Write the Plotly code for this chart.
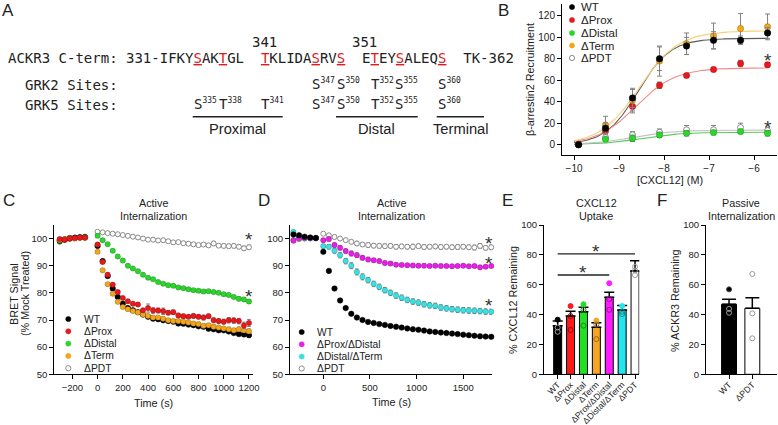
import plotly.graph_objects as go
import numpy as np

W, H = 778, 425
SANS = "Liberation Sans, Arial, sans-serif"
MONO = "DejaVu Sans Mono, monospace"
NB = "\u00a0"
TXT = "#222222"

# ---------------- colours ----------------
C_BLACK = "#000000"
C_RED = "#e8181c"
C_GREEN = "#2ad62a"
C_ORANGE = "#f2a61c"
C_MAGENTA = "#e61ee6"
C_CYAN = "#3ae0e2"
C_OPEN = "#8c8c8c"

# ---------------- Panel B data ----------------
b_logconc = [-9.9, -9.3, -8.7, -8.1, -7.5, -6.9, -6.3, -5.7]
b_wt = [0, 15.3, 43.5, 80.0, 91.9, 97.2, 97.2, 104.0]
b_wt_err = [0, 5, 9, 11, 8, 8, 4, 5]
b_prox = [0, 12.8, 35.6, 55.3, 64.4, 70.0, 75.6, 74.4]
b_prox_err = [0, 2, 6, 3, 1, 2, 3, 2]
b_distal = [0, 5.0, 5.9, 9.0, 10.6, 11.2, 12.2, 10.6]
b_distal_err = [0, 1.5, 3, 2.5, 2.5, 2, 2, 2.5]
b_term = [0, 18.4, 41.3, 77.8, 94.0, 101.2, 108.1, 109.7]
b_term_err = [0, 8, 10, 14, 10, 12, 14, 12]
b_pdt = [0, 6.6, 9.1, 11.6, 13.8, 13.8, 16.0, 13.1]
b_pdt_err = [0, 3, 3, 3, 4, 4, 4, 3]
# fitted sigmoid parameters (top, logEC50, hill)
b_fit_names = ["WT", "ΔProx", "ΔDistal", "ΔTerm", "ΔPDT"]
b_fit_top = [99, 71.5, 11.5, 106, 13.5]
b_fit_logec50 = [-8.58, -8.62, -8.5, -8.55, -8.7]
b_fit_hill = [1.2, 1.0, 1.0, 1.0, 1.0]
b_fit_colors = ["#5a5a5a", "#f58a8a", "#5cc85c", "#f7cf7a", "#c4c4c4"]
b_star_x = [-5.7, -5.7]
b_star_y = [83.0, 20.6]

# ---------------- Panel C data ----------------
c_base_t = [-300, -260, -220, -180, -140, -100]
c_post_t = list(range(0, 1201, 40))
c_wt = [99.2, 99.7, 100.0, 100.3, 100.4, 100.5,
        97.3, 91.7, 86.2, 81.6, 78.5, 76.0, 74.4, 73.6, 72.9, 72.0,
        71.2, 70.5, 70.3, 69.9, 69.6, 69.4, 68.7, 68.6, 68.3, 68.1,
        67.7, 67.5, 66.8, 66.6, 66.2, 66.2, 65.8, 65.2, 64.8, 64.7, 64.4]
c_wt_err = [0.4, 0.3, 0.3, 0.3, 0.3, 0.3,
            0.5, 0.6, 0.7, 0.6, 0.5, 0.5, 0.5, 0.4, 0.5, 0.5,
            0.5, 0.5, 0.4, 0.5, 0.5, 0.4, 0.5, 0.5, 0.4, 0.5,
            0.5, 0.5, 0.6, 0.5, 0.5, 0.5, 0.6, 0.5, 0.6, 0.6, 0.6]
c_prox = [99.8, 99.6, 100.0, 100.2, 100.4, 100.3,
          97.8, 91.4, 86.7, 83.0, 80.3, 78.1, 76.9, 76.0, 75.7, 73.6,
          74.4, 73.5, 73.5, 73.2, 72.7, 72.9, 71.7, 71.4, 71.2, 71.5,
          71.2, 70.9, 71.4, 69.9, 69.6, 69.4, 69.9, 69.8, 69.6, 68.0, 68.9]
c_prox_err = [0.4, 0.3, 0.3, 0.3, 0.3, 0.3,
              0.6, 0.6, 0.7, 0.6, 0.6, 0.5, 0.6, 0.5, 0.6, 0.6,
              1.5, 1.0, 0.9, 1.2, 0.8, 0.8, 0.8, 0.8, 0.7, 0.8,
              0.8, 0.9, 0.8, 0.9, 0.9, 0.9, 1.0, 1.0, 1.0, 1.2, 1.3]
c_distal = [98.8, 99.5, 100.3, 100.2, 100.5, 100.4,
            101.0, 99.4, 97.9, 95.5, 93.4, 91.9, 90.0, 89.0, 88.0, 86.7,
            85.6, 85.0, 84.0, 83.4, 82.8, 82.6, 82.0, 81.7, 81.3, 81.0,
            80.8, 80.5, 80.6, 80.3, 80.0, 79.5, 79.2, 78.5, 77.8, 77.6, 76.8]
c_distal_err = [0.3, 0.3, 0.3, 0.3, 0.3, 0.3,
                0.5, 0.5, 0.4, 0.4, 0.5, 0.4, 0.5, 0.4, 0.5, 0.4,
                0.5, 0.4, 0.5, 0.4, 0.5, 0.4, 0.5, 0.4, 0.5, 0.5,
                0.5, 0.6, 0.5, 0.6, 0.5, 0.6, 0.6, 0.6, 0.7, 0.7, 0.7]
c_term = [99.4, 99.8, 100.1, 100.0, 100.3, 100.4,
          95.1, 88.3, 83.2, 79.7, 76.7, 74.8, 74.0, 73.3, 72.8, 72.0,
          71.5, 70.9, 70.9, 70.5, 69.9, 69.6, 69.6, 69.4, 69.1, 68.7,
          68.5, 67.9, 68.1, 67.5, 67.2, 66.9, 66.6, 66.2, 66.6, 66.2, 65.9]
c_term_err = [0.3, 0.3, 0.3, 0.3, 0.3, 0.3,
              0.5, 0.6, 0.6, 0.5, 0.5, 0.5, 0.5, 0.5, 0.6, 0.5,
              0.5, 0.6, 0.5, 0.6, 0.5, 0.6, 0.6, 0.5, 0.6, 0.6,
              0.6, 0.7, 0.6, 0.7, 0.6, 0.7, 0.7, 0.7, 0.8, 0.7, 0.8]
c_pdt = [99.6, 99.8, 100.2, 100.4, 100.6, 100.7,
         102.5, 102.3, 102.0, 101.8, 101.6, 101.3, 101.0, 100.7, 100.4, 100.0,
         99.6, 99.6, 99.3, 99.4, 99.0, 98.6, 98.7, 98.3, 98.1, 97.9,
         97.6, 97.8, 97.5, 98.2, 97.4, 97.3, 97.2, 97.3, 97.0, 96.4, 96.8]
c_pdt_err = [0.3, 0.3, 0.3, 0.3, 0.3, 0.3,
             0.4, 0.4, 0.4, 0.4, 0.5, 0.4, 0.5, 0.4, 0.5, 0.5,
             0.5, 0.6, 0.5, 0.6, 0.5, 0.6, 0.5, 0.6, 0.6, 0.6,
             0.6, 0.7, 0.6, 0.8, 0.6, 0.7, 0.7, 0.7, 0.7, 0.8, 0.8]
c_star_x = [1200, 1200]
c_star_y = [101.5, 80.3]

# ---------------- Panel D data ----------------
d_base_t = [-320, -260, -200, -140, -80]
d_post_t = list(range(0, 1801, 60))
d_wt = [101.5, 101.2, 100.7, 100.4, 100.2,
        95.1, 88.1, 81.6, 77.2, 74.4, 72.3, 70.9, 70.0, 69.3, 68.9,
        68.5, 68.2, 67.8, 67.5, 67.2, 66.9, 66.6, 66.4, 66.1, 65.8,
        65.6, 65.4, 65.2, 65.0, 64.8, 64.6, 64.4, 64.2, 64.0, 63.9, 63.8]
d_wt_err = [0.4, 0.3, 0.3, 0.3, 0.3,
            0.5, 0.7, 0.6, 0.5, 0.4, 0.4, 0.4, 0.4, 0.4, 0.4,
            0.4, 0.4, 0.4, 0.4, 0.4, 0.4, 0.4, 0.4, 0.4, 0.4,
            0.4, 0.4, 0.4, 0.4, 0.4, 0.4, 0.4, 0.4, 0.4, 0.4, 0.4]
d_pd = [99.2, 100.1, 100.3, 100.2, 100.2,
        99.4, 99.8, 97.6, 96.6, 95.4, 94.5, 93.9, 92.9, 92.3, 92.0,
        91.7, 91.0, 90.8, 90.4, 90.3, 90.2, 90.1, 90.0, 90.0, 89.9,
        90.0, 89.9, 89.9, 89.8, 89.9, 90.0, 89.8, 89.9, 89.4, 89.6, 89.9]
d_pd_err = [0.5, 0.3, 0.3, 0.3, 0.3,
            0.6, 0.7, 0.8, 0.8, 0.8, 0.9, 0.8, 0.8, 0.8, 0.7,
            0.7, 0.7, 0.6, 0.6, 0.6, 0.6, 0.6, 0.6, 0.6, 0.6,
            0.6, 0.6, 0.6, 0.6, 0.6, 0.6, 0.6, 0.6, 0.6, 0.6, 0.6]
d_dt = [102.4, 100.5, 100.2, 100.0, 100.1,
        97.2, 97.0, 95.5, 93.9, 91.7, 90.0, 87.7, 85.9, 84.7, 83.3,
        82.2, 81.0, 80.0, 79.0, 78.2, 77.4, 76.8, 76.4, 75.8, 75.4,
        75.2, 74.6, 74.3, 74.0, 73.8, 73.6, 73.5, 73.4, 73.3, 73.1, 73.0]
d_dt_err = [0.7, 0.4, 0.3, 0.3, 0.3,
            0.7, 0.8, 0.9, 1.0, 1.0, 1.1, 1.1, 1.1, 1.0, 1.0,
            1.0, 1.0, 1.0, 1.0, 1.0, 1.0, 1.0, 1.0, 1.0, 1.0,
            1.0, 1.0, 1.0, 1.0, 1.0, 1.0, 1.0, 1.0, 1.0, 1.0, 1.0]
d_pdt = [99.5, 99.8, 100.0, 100.2, 100.2,
         101.8, 101.2, 100.6, 100.0, 99.4, 98.8, 98.2, 97.8, 97.6, 97.4,
         97.3, 97.2, 97.3, 97.0, 97.1, 97.0, 97.0, 97.2, 96.9, 97.0,
         97.1, 96.9, 97.0, 96.8, 96.9, 97.0, 96.8, 96.7, 97.3, 96.6, 96.8]
d_pdt_err = [0.6, 0.4, 0.3, 0.3, 0.3,
             0.5, 0.6, 0.7, 0.7, 0.7, 0.7, 0.8, 0.7, 0.8, 0.8,
             0.8, 0.8, 0.8, 0.8, 0.8, 0.8, 0.9, 0.8, 0.8, 0.8,
             0.8, 0.8, 0.8, 0.8, 0.9, 0.8, 0.8, 0.9, 0.9, 0.8, 0.9]
d_star_x = [1780, 1780, 1780]
d_star_y = [99.8, 92.6, 76.9]

# ---------------- Panel E data ----------------
e_names = ["WT", "ΔProx", "ΔDistal", "ΔTerm", "ΔProx/ΔDistal", "ΔDistal/ΔTerm", "ΔPDT"]
e_mean = [32.6, 39.0, 41.9, 31.5, 51.6, 43.1, 69.2]
e_err = [3.1, 3.2, 3.0, 3.1, 3.3, 2.9, 6.9]
e_rep1 = [36.6, 45.7, 46.9, 36.0, 61.0, 45.7, 72.0]
e_rep2 = [31.3, 39.0, 43.3, 33.3, 50.4, 41.9, 69.5]
e_rep3 = [28.5, 29.7, 32.6, 23.6, 43.2, 40.3, 66.5]
e_colors = ["#000000", "#ff1a1a", "#22e022", "#f5a623", "#ff1aff", "#22e5ee", "#ffffff"]
e_dot_colors = ["#000000", "#ff1a1a", "#22e022", "#f5a623", "#ff1aff", "#22e5ee", "#9a9a9a"]
e_open_colors = ["#9a9a9a", "#8b1010", "#168a16", "#9a6a10", "#9a109a", "#128a90", "#9a9a9a"]
e_sig_from = [0, 0]
e_sig_to = [6, 4]
e_sig_y = [80.6, 66.5]

# ---------------- Panel F data ----------------
f_names = ["WT", "ΔPDT"]
f_mean = [46.9, 44.2]
f_err = [3.3, 7.1]
f_rep1 = [56.9, 67.2]
f_rep2 = [43.8, 40.8]
f_rep3 = [41.2, 24.1]
f_colors = ["#000000", "#ffffff"]

# ---------------- helpers ----------------
def xdom(a, b):
    return [a / W, b / W]

def ydom(top, bottom):
    return [1 - bottom / H, 1 - top / H]

def axis_common(**kw):
    d = dict(showline=True, linecolor="black", linewidth=1, ticks="outside",
             ticklen=4, tickwidth=1, tickcolor="black", showgrid=False,
             zeroline=False, showticklabels=True, automargin=False,
             tickfont=dict(size=9.5, family=SANS, color=TXT), fixedrange=True)
    d.update(kw)
    return d

anns = []
shapes = []

def txt(x, y, s, size=10.8, xanchor="center", family=SANS, color=TXT, angle=0):
    anns.append(dict(x=x / W, y=1 - y / H, xref="paper", yref="paper", text=s,
                     showarrow=False, font=dict(size=size, family=family, color=color),
                     xanchor=xanchor, yanchor="middle", textangle=angle, borderpad=0))

def star(xr, yr, x, y, size=19):
    anns.append(dict(x=x, y=y, xref=xr, yref=yr, text="*", showarrow=False,
                     font=dict(size=size, family=SANS, color="#333333"),
                     xanchor="center", yanchor="middle", yshift=-4.5))

fig = go.Figure()

# ---------------- Panel B traces ----------------
xfit = np.linspace(-10.0, -5.7, 200)
for top, ec, h, col in zip(b_fit_top, b_fit_logec50, b_fit_hill, b_fit_colors):
    yfit = top / (1 + 10 ** ((ec - xfit) * h))
    fig.add_trace(go.Scatter(x=xfit, y=yfit, mode="lines", line=dict(color=col, width=1.1),
                             xaxis="x", yaxis="y", hoverinfo="skip"))

def pts(x, y, err, color, xa, ya, open_=False, size=6, ecol="#808080", ewidth=2.5):
    if open_:
        marker = dict(symbol="circle", size=size - 0.5, color="white",
                      line=dict(color=color, width=1))
    else:
        edge = "rgba(0,0,0,0.35)" if color != C_BLACK else C_BLACK
        marker = dict(symbol="circle", size=size, color=color, line=dict(color=edge, width=0.5))
    fig.add_trace(go.Scatter(x=x, y=y, mode="markers", marker=marker,
                             error_y=dict(type="data", array=err, visible=True, color=ecol,
                                          thickness=1, width=ewidth),
                             xaxis=xa, yaxis=ya, hoverinfo="skip", cliponaxis=False))

pts(b_logconc, b_pdt, b_pdt_err, C_OPEN, "x", "y", open_=True, size=6.5)
pts(b_logconc, b_distal, b_distal_err, C_GREEN, "x", "y", size=6.5)
pts(b_logconc, b_prox, b_prox_err, C_RED, "x", "y", size=6.5)
pts(b_logconc, b_term, b_term_err, C_ORANGE, "x", "y", size=6.5)
pts(b_logconc, b_wt, b_wt_err, C_BLACK, "x", "y", size=6.5)
for sx, sy in zip(b_star_x, b_star_y):
    star("x", "y", sx, sy)

# ---------------- Panel C traces ----------------
ct = c_base_t + c_post_t
pts(ct, c_pdt, c_pdt_err, C_OPEN, "x2", "y2", open_=True, size=5.5, ewidth=1.8)
pts(ct, c_distal, c_distal_err, C_GREEN, "x2", "y2", size=5.5, ewidth=1.8)
pts(ct, c_wt, c_wt_err, C_BLACK, "x2", "y2", size=5.5, ewidth=1.8)
pts(ct, c_term, c_term_err, C_ORANGE, "x2", "y2", size=5.5, ewidth=1.8)
pts(ct, c_prox, c_prox_err, C_RED, "x2", "y2", size=5.5, ewidth=1.8)
for sx, sy in zip(c_star_x, c_star_y):
    star("x2", "y2", sx, sy)

# ---------------- Panel D traces ----------------
dt = d_base_t + d_post_t
pts(dt, d_pdt, d_pdt_err, C_OPEN, "x3", "y3", open_=True, size=5.5, ewidth=1.8)
pts(dt, d_dt, d_dt_err, C_CYAN, "x3", "y3", size=5.5, ewidth=1.8)
pts(dt, d_pd, d_pd_err, C_MAGENTA, "x3", "y3", size=5.5, ewidth=1.8)
pts(dt, d_wt, d_wt_err, C_BLACK, "x3", "y3", size=5.5, ewidth=1.8)
for sx, sy in zip(d_star_x, d_star_y):
    star("x3", "y3", sx, sy)

# ---------------- Panel E traces ----------------
ex = list(range(len(e_names)))
fig.add_trace(go.Bar(x=ex, y=e_mean, width=0.62,
                     marker=dict(color=e_colors, line=dict(color="black", width=1)),
                     error_y=dict(type="data", symmetric=False, array=e_err,
                                  arrayminus=[0] * len(e_err), color="black",
                                  thickness=1.5, width=5),
                     xaxis="x4", yaxis="y4", hoverinfo="skip"))
fill_sym = ["circle"] * 6 + ["circle-open"]
fig.add_trace(go.Scatter(x=ex, y=e_rep1, mode="markers",
                         marker=dict(symbol=fill_sym, size=5, color=e_dot_colors,
                                     line=dict(color=e_dot_colors, width=1)),
                         xaxis="x4", yaxis="y4", hoverinfo="skip"))
for rep in (e_rep2, e_rep3):
    fig.add_trace(go.Scatter(x=ex, y=rep, mode="markers",
                             marker=dict(symbol="circle-open", size=5, color=e_open_colors,
                                         line=dict(width=1)),
                             xaxis="x4", yaxis="y4", hoverinfo="skip"))
for a, b, yv in zip(e_sig_from, e_sig_to, e_sig_y):
    shapes.append(dict(type="line", xref="x4", yref="y4", x0=a, x1=b, y0=yv, y1=yv,
                       line=dict(color="#222222", width=1.3)))
    star("x4", "y4", (a + b) / 2, yv + 5.0)

# ---------------- Panel F traces ----------------
fx = list(range(len(f_names)))
fig.add_trace(go.Bar(x=fx, y=f_mean, width=0.64,
                     marker=dict(color=f_colors, line=dict(color="black", width=1)),
                     error_y=dict(type="data", symmetric=False, array=f_err,
                                  arrayminus=[0] * len(f_err), color="black",
                                  thickness=1.5, width=7),
                     xaxis="x5", yaxis="y5", hoverinfo="skip"))
fig.add_trace(go.Scatter(x=fx, y=f_rep1, mode="markers",
                         marker=dict(symbol=["circle", "circle-open"], size=5,
                                     color=["#000000", "#9a9a9a"], line=dict(width=1)),
                         xaxis="x5", yaxis="y5", hoverinfo="skip"))
for rep in (f_rep2, f_rep3):
    fig.add_trace(go.Scatter(x=fx, y=rep, mode="markers",
                             marker=dict(symbol="circle-open", size=5, color="#9a9a9a",
                                         line=dict(width=1)),
                             xaxis="x5", yaxis="y5", hoverinfo="skip"))

# ---------------- legends (pixel-anchored circle shapes + text) ----------------
def legend_block(xm, xt, rows, names, styles, size):
    for yy, nm, (col, op) in zip(rows, names, styles):
        r = 2.6
        shapes.append(dict(type="circle", xref="paper", yref="paper",
                           xsizemode="pixel", ysizemode="pixel",
                           xanchor=xm / W, yanchor=1 - yy / H,
                           x0=-r, x1=r, y0=-r, y1=r,
                           fillcolor="white" if op else col,
                           line=dict(color=col, width=1 if op else 0.5)))
        txt(xt, yy, nm, size=size, xanchor="left")

legend_block(572, 580, [7, 20, 33, 45.5, 58],
             ["WT", "ΔProx", "ΔDistal", "ΔTerm", "ΔPDT"],
             [(C_BLACK, False), (C_RED, False), (C_GREEN, False), (C_ORANGE, False), (C_OPEN, True)], 11.5)
legend_block(68.3, 83, [319, 331.3, 343.6, 355.9, 368.2],
             ["WT", "ΔProx", "ΔDistal", "ΔTerm", "ΔPDT"],
             [(C_BLACK, False), (C_RED, False), (C_GREEN, False), (C_ORANGE, False), (C_OPEN, True)], 10.3)
legend_block(301.7, 316, [332, 344.3, 356.5, 368.5],
             ["WT", "ΔProx/ΔDistal", "ΔDistal/ΔTerm", "ΔPDT"],
             [(C_BLACK, False), (C_MAGENTA, False), (C_CYAN, False), (C_OPEN, True)], 10.3)

# ---------------- Panel A text ----------------
def red(ch):
    return '<span style="color:#e0191b"><u>%s</u></span>' % ch

def site(aa, num):
    return aa + '<sup><span style="font-size:8px">' + num + '</span></sup>'

seq = ("ACKR3" + NB + "C-term:" + NB + "331-IFKY" + red("S") + "AK" + red("T") + "GL" + NB * 2 +
       red("T") + "KLIDA" + red("S") + "RV" + red("S") + NB * 2 +
       "E" + red("T") + "EY" + red("S") + "ALEQ" + red("S") + NB * 2 + "TK-362")
txt(7, 58, seq, size=14, xanchor="left", family=MONO)
txt(264, 42, "341", size=14, family=MONO)
txt(364.7, 42, "351", size=14, family=MONO)
txt(24, 85, "GRK2" + NB + "Sites:", size=14, xanchor="left", family=MONO)
txt(24, 105, "GRK5" + NB + "Sites:", size=14, xanchor="left", family=MONO)
grk2_sites = [("S", "347", 310.7), ("S", "350", 336), ("T", "352", 370), ("S", "355", 394), ("S", "360", 436.7)]
grk5_sites = [("S", "335", 193.3), ("T", "338", 218.3), ("T", "341", 260)] + grk2_sites
for aa, num, xx in grk2_sites:
    txt(xx, 84, site(aa, num), size=14, xanchor="left", family=MONO)
for aa, num, xx in grk5_sites:
    txt(xx, 104, site(aa, num), size=14, xanchor="left", family=MONO)
for x0, x1, lab, xc in [(192.7, 282.7, "Proximal", 237.7), (336, 417.7, "Distal", 376.7),
                        (436.7, 484, "Terminal", 461)]:
    shapes.append(dict(type="line", xref="paper", yref="paper", x0=x0 / W, x1=x1 / W,
                       y0=1 - 116.7 / H, y1=1 - 116.7 / H, line=dict(color="#222222", width=1.4)))
    txt(xc, 129, lab, size=14.7)

# ---------------- panel letters, titles, axis titles ----------------
for lab, x, y in [("A", 8, 10), ("B", 504, 10), ("C", 9, 200), ("D", 264, 200), ("E", 507, 200), ("F", 662, 200)]:
    txt(x, y, lab, size=17)

for xc, l1, l2 in [(153, "Active", "Internalization"), (391, "Active", "Internalization"),
                   (596, "CXCL12", "Uptake"), (741, "Passive", "Internalization")]:
    txt(xc, 203.5, l1)
    txt(xc, 215.5, l2)

txt(670, 180, "[CXCL12] (M)")
txt(530, 80, "β-arrestin2 Recruitment", angle=-90)
txt(153, 402.5, "Time (s)")
txt(391, 402, "Time (s)")
txt(14, 294, "BRET Signal", angle=-90)
txt(25, 294, "(% Mock Treated)", angle=-90)
txt(513, 300, "% CXCL12 Remaining", angle=-90)
txt(675, 301, "% ACKR3 Remaining", angle=-90)

# ---------------- layout ----------------
xa4 = axis_common(domain=xdom(544, 639.3), range=[-1.06, 6.33], anchor="y4",
                  tickvals=ex, ticktext=e_names, tickangle=-45,
                  tickfont=dict(size=8.7, family=SANS, color=TXT))
xa5 = axis_common(domain=xdom(706, 777), range=[-0.99, 2.06], anchor="y5",
                  tickvals=fx, ticktext=f_names, tickangle=-45,
                  tickfont=dict(size=8.7, family=SANS, color=TXT))

fig.update_layout(
    template="none",
    width=W, height=H, autosize=False,
    margin=dict(l=0, r=0, t=0, b=0, pad=0),
    paper_bgcolor="white", plot_bgcolor="rgba(0,0,0,0)",
    showlegend=False, hovermode=False,
    font=dict(family=SANS, color=TXT),
    annotations=anns, shapes=shapes,
    xaxis=axis_common(domain=xdom(562, 777), range=[-10.267, -5.49], anchor="y",
                      tickvals=[-10, -9, -8, -7, -6], tickfont=dict(size=10, family=SANS, color=TXT)),
    yaxis=axis_common(domain=ydom(4, 155), range=[-9.65, 131], anchor="x", side="left",
                      tickvals=[0, 20, 40, 60, 80, 100, 120], tickfont=dict(size=10, family=SANS, color=TXT)),
    xaxis2=axis_common(domain=xdom(54.3, 253), range=[-343, 1232], anchor="y2",
                       tickvals=[-200, 0, 200, 400, 600, 800, 1000, 1200]),
    yaxis2=axis_common(domain=ydom(225, 374.3), range=[50, 105], anchor="x2",
                       tickvals=[50, 60, 70, 80, 90, 100]),
    xaxis3=axis_common(domain=xdom(290, 491.7), range=[-357, 1805], anchor="y3",
                       tickvals=[0, 500, 1000, 1500]),
    yaxis3=axis_common(domain=ydom(225, 374.3), range=[50, 105], anchor="x3",
                       tickvals=[50, 60, 70, 80, 90, 100]),
    xaxis4=xa4,
    yaxis4=axis_common(domain=ydom(225, 374.3), range=[0, 100], anchor="x4",
                       tickvals=[0, 20, 40, 60, 80, 100]),
    xaxis5=xa5,
    yaxis5=axis_common(domain=ydom(225, 374.3), range=[0, 100], anchor="x5",
                       tickvals=[0, 20, 40, 60, 80, 100]),
)
# pull the rotated category labels slightly closer to the axis
try:
    fig.update_layout(xaxis4_ticklabelstandoff=-3, xaxis5_ticklabelstandoff=-3)
except Exception:
    pass

fig.write_html(
    "out.html",
    config={"displayModeBar": False, "staticPlot": True},
    post_script="document.body.style.margin='0';document.body.style.padding='0';"
                "document.documentElement.style.overflow='hidden';",
)
